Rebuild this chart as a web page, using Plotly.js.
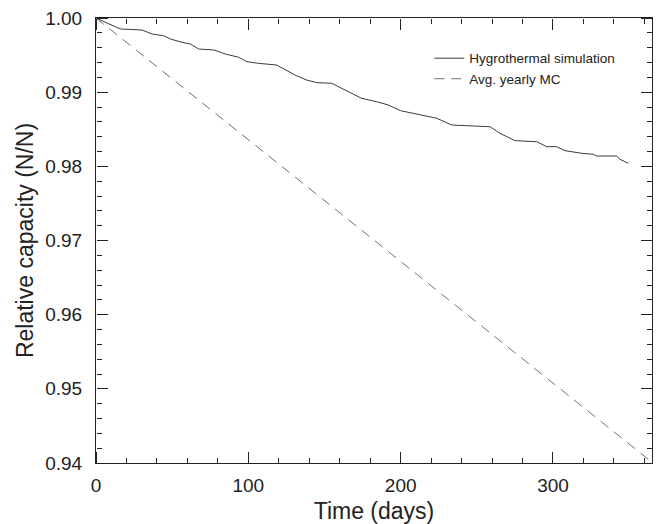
<!DOCTYPE html>
<html>
<head>
<meta charset="utf-8">
<script src="https://cdn.plot.ly/plotly-3.0.1.min.js"></script>
<style>html,body{margin:0;padding:0;background:#fff;}#chart{width:662px;height:524px;}</style>
</head>
<body>
<div id="chart"></div>
<script>
// Hygrothermal simulation
var hygroDays = [0, 10.5, 16.0, 30.2, 36.8, 44.4, 48.8, 56.5, 61.9, 67.4, 77.3, 84.9, 93.7, 99.1, 106.5, 118.6, 124.1, 130.6, 138.3, 144.9, 154.7, 163.5, 174.4, 184.3, 191.9, 200.0, 208.3, 223.7, 233.5, 258.7, 265.2, 275.1, 289.3, 295.9, 302.4, 307.9, 318.8, 326.5, 328.7, 341.8, 344.0, 349.4];
var hygroValues = [1.0000, 0.99896, 0.99852, 0.99838, 0.99784, 0.99761, 0.99717, 0.99672, 0.99649, 0.99582, 0.99569, 0.99515, 0.99470, 0.99411, 0.99389, 0.99366, 0.99299, 0.99231, 0.99164, 0.99128, 0.99120, 0.99029, 0.98917, 0.98871, 0.98827, 0.98750, 0.98715, 0.98648, 0.98557, 0.98534, 0.98445, 0.98346, 0.98332, 0.98265, 0.98265, 0.98211, 0.98176, 0.98162, 0.98139, 0.98139, 0.98095, 0.98041];
// Avg. yearly MC
var avgDays = [0, 100, 200, 300, 365];
var avgValues = [1.0000, 0.9836, 0.9671, 0.9507, 0.9401];
var seriesNames = ["Hygrothermal simulation", "Avg. yearly MC"];
var xTickVals = [0, 100, 200, 300];
var xTickText = ["0", "100", "200", "300"];
var yTickVals = [0.94, 0.95, 0.96, 0.97, 0.98, 0.99, 1.00];
var yTickText = ["0.94", "0.95", "0.96", "0.97", "0.98", "0.99", "1.00"];
var xRange = [0, 365];
var yRange = [0.94, 1.00];

var font = "Liberation Sans, Arial, sans-serif";
var traces = [
  {x: hygroDays, y: hygroValues, name: seriesNames[0], mode: "lines", type: "scatter",
   line: {color: "#3a3a3a", width: 1}},
  {x: avgDays, y: avgValues, name: seriesNames[1], mode: "lines", type: "scatter",
   line: {color: "#707070", width: 1, dash: "10px,7px"}},
  // empty helper traces so the tick-only overlay axes get drawn
  {x: [], y: [], xaxis: "x2", yaxis: "y", showlegend: false, hoverinfo: "skip", type: "scatter"},
  {x: [], y: [], xaxis: "x3", yaxis: "y", showlegend: false, hoverinfo: "skip", type: "scatter"},
  {x: [], y: [], xaxis: "x", yaxis: "y2", showlegend: false, hoverinfo: "skip", type: "scatter"},
  {x: [], y: [], xaxis: "x", yaxis: "y3", showlegend: false, hoverinfo: "skip", type: "scatter"}
];
// tick-only axis: outward ticks of an axis placed on the opposite edge point into the plot
function tickAxis(range, vals, minorDtick, over, side, pos) {
  return {
    overlaying: over, side: side, anchor: "free", position: pos,
    range: range, tickmode: "array", tickvals: vals, showticklabels: false,
    ticks: "outside", ticklen: 11, tickwidth: 1, tickcolor: "#222",
    minor: {dtick: minorDtick, ticks: "outside", ticklen: 5, tickwidth: 1, tickcolor: "#222", showgrid: false},
    showline: false, showgrid: false, zeroline: false, fixedrange: true
  };
}
var layout = {
  width: 662, height: 524,
  margin: {l: 96, r: 10, t: 18, b: 61},
  paper_bgcolor: "#fff", plot_bgcolor: "#fff",
  showlegend: true,
  legend: {x: 0.943, y: 0.944, xanchor: "right", yanchor: "top",
    bgcolor: "rgba(0,0,0,0)", font: {family: font, size: 13.5, color: "#222"},
    tracegroupgap: 0},
  xaxis: {
    range: xRange, tickmode: "array", tickvals: xTickVals, ticktext: xTickText,
    showline: true, linecolor: "#222", linewidth: 1, mirror: true, ticks: "",
    showgrid: false, zeroline: false, ticklabelstandoff: 5,
    tickfont: {family: font, size: 19, color: "#222"},
    title: {text: "Time (days)", font: {family: font, size: 23, color: "#222"}, standoff: 8}
  },
  yaxis: {
    range: yRange, tickmode: "array", tickvals: yTickVals, ticktext: yTickText,
    showline: true, linecolor: "#222", linewidth: 1, mirror: true, ticks: "",
    showgrid: false, zeroline: false, ticklabelstandoff: 9,
    tickfont: {family: font, size: 19, color: "#222"},
    title: {text: "Relative capacity (N/N)", font: {family: font, size: 23, color: "#222"}, standoff: 5}
  },
  xaxis2: tickAxis(xRange, xTickVals, 20, "x", "top", 0),
  xaxis3: tickAxis(xRange, xTickVals, 20, "x", "bottom", 1),
  yaxis2: tickAxis(yRange, yTickVals, 0.002, "y", "right", 0),
  yaxis3: tickAxis(yRange, yTickVals, 0.002, "y", "left", 1)
};
Plotly.newPlot("chart", traces, layout, {displayModeBar: false});
</script>
</body>
</html>
